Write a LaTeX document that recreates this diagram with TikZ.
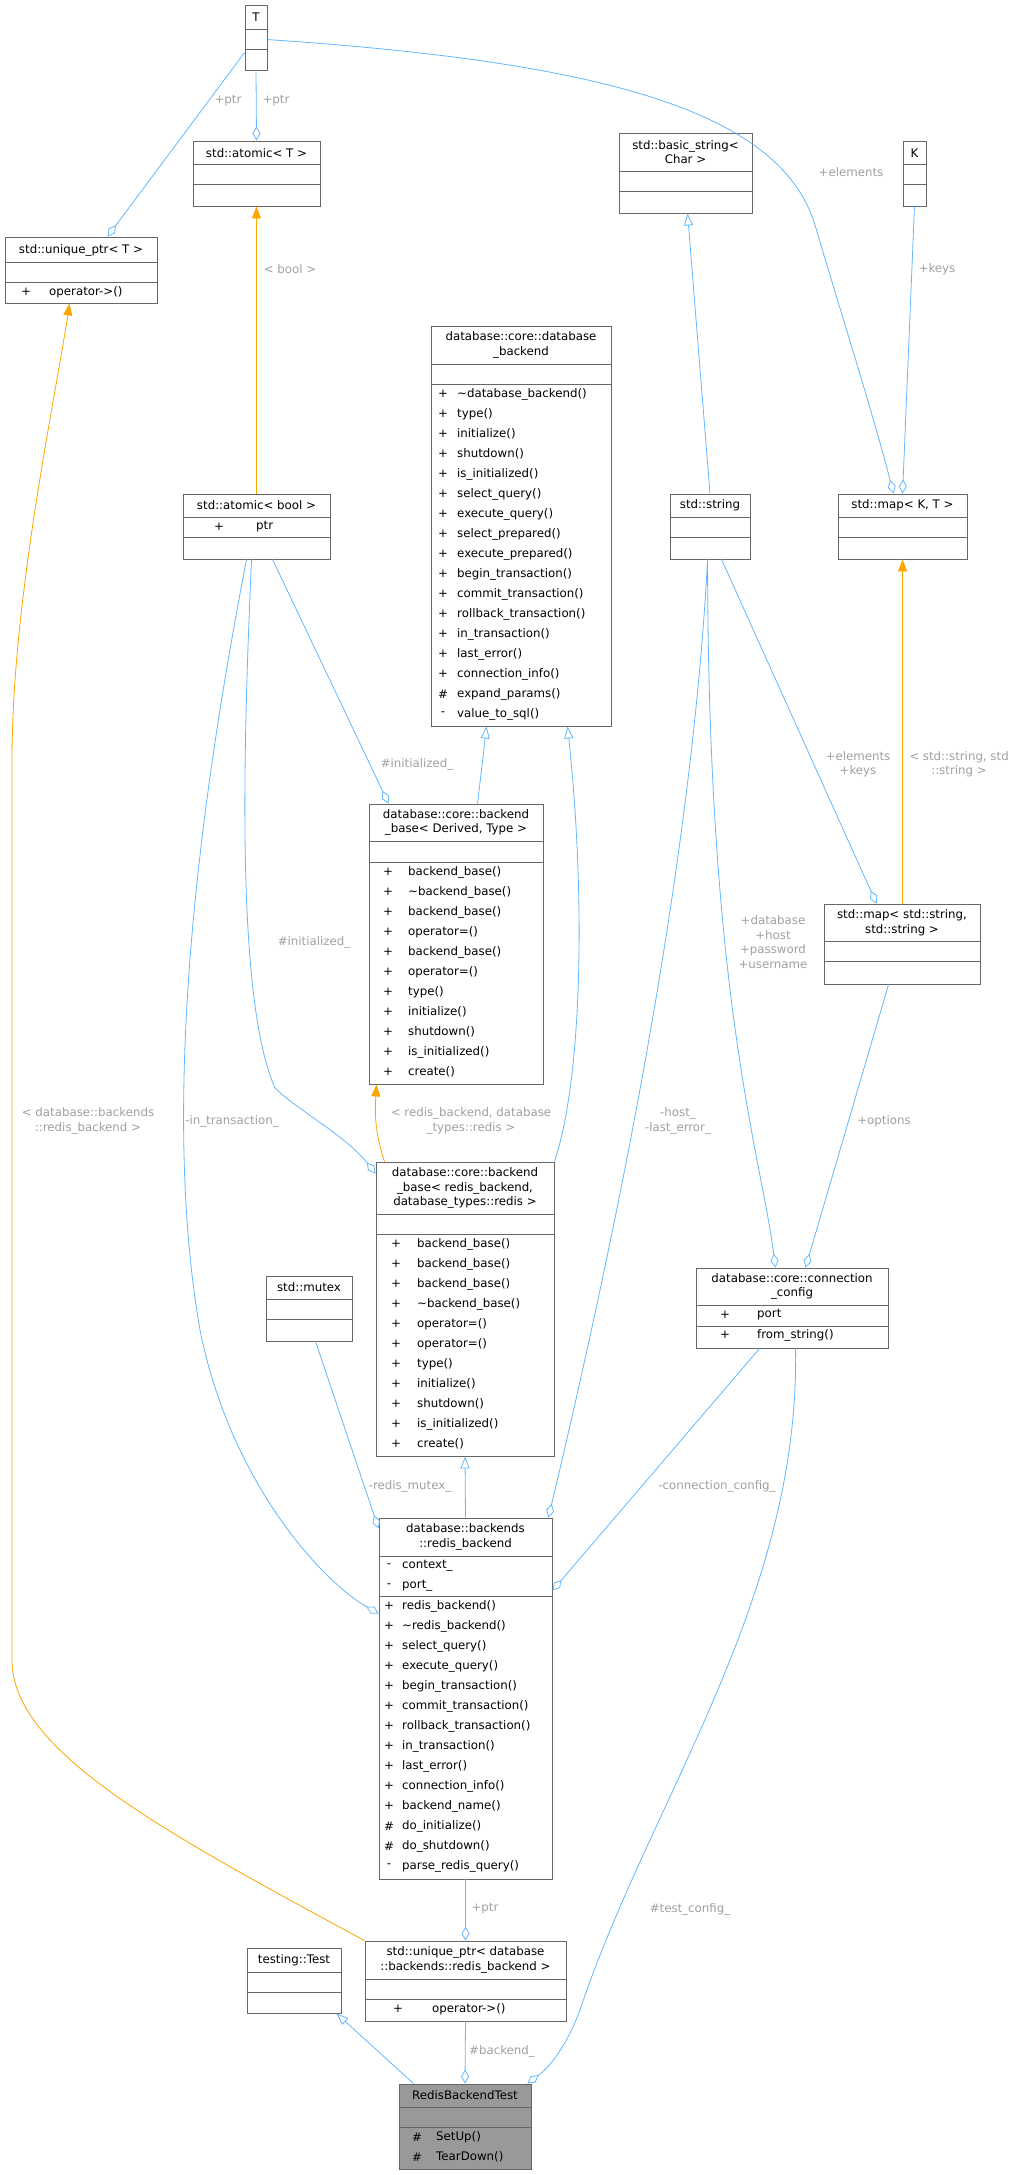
\documentclass[tikz,border=0pt]{standalone}
\usepackage{fontspec}
\setmainfont{DejaVu Sans}
\usetikzlibrary{arrows.meta,fit,calc,positioning}

\definecolor{edgeblue}{HTML}{63B8FF}
\definecolor{edgeorange}{HTML}{FFA500}
\definecolor{labelgray}{HTML}{A0A0A0}
\definecolor{framegray}{HTML}{666666}

\tikzset{
  boxframe/.style={draw=framegray, line width=0.9pt, inner sep=0pt},
  boxline/.style={draw=framegray, line width=0.9pt},
  ctitle/.style={inner sep=0pt, align=center, font=\fontsize{11.8}{14.5}\selectfont},
  mem/.style={inner sep=0pt, font=\fontsize{11.8}{14.5}\selectfont},
  elabel/.style={inner sep=0pt, align=center, text=labelgray, font=\fontsize{11.8}{14.5}\selectfont},
  agg/.style={draw=edgeblue, line width=0.8pt, -{Diamond[open,length=14pt,width=8pt]}},
  inherit/.style={draw=edgeblue, line width=0.8pt, -{Triangle[open,length=12pt,width=9pt]}},
  templ/.style={draw=edgeorange, line width=0.8pt, -{Triangle[length=12pt,width=9pt]}}
}

% class box: name, x1, y1, x2, y2, first and second separator
\newcommand{\classbox}[8][white]{%
  \node[boxframe, fill=#1, fit={(#3,#4) (#5,#6)}] (#2) {};
  \draw[boxline] (#3,#7) -- (#5,#7);
  \draw[boxline] (#3,#8) -- (#5,#8);}

% member rows: name, x of mark, x of text, top y, list
\newcommand{\members}[5]{%
  \foreach \m/\n [count=\i] in {#5} {
    \node[mem] (#1-k\i) at (#2, #4+20*\i-10) {\m};
    \node[mem, anchor=west] (#1-n\i) at (#3, #4+20*\i-10) {\n};}}

\begin{document}
\begin{tikzpicture}[x=1pt, y=-1pt]
\fill[white] (0,0) rectangle (1011,2175);
\useasboundingbox (0,0) rectangle (1011,2175);

% class boxes
\classbox{T}{245}{5}{267}{70}{29}{49}
\node[ctitle] (T-t) at (256,17) {T};
\classbox{K}{903}{141}{926}{206}{164}{184}
\node[ctitle] (K-t) at (914.5,153) {K};
\classbox{atomT}{193}{141}{320}{206}{164}{184}
\node[ctitle] (atomT-t) at (256.5,153) {std::atomic< T >};
\classbox{uptrT}{5}{237}{157}{303}{262}{282}
\node[ctitle] (uptrT-t) at (81,250) {std::unique\_ptr< T >};
\members{uptrT}{26}{49}{282}{+/operator->()}
\classbox{bstring}{619}{133}{752}{213}{171}{191}
\node[ctitle] (bstring-t) at (685.5,152) {std::basic\_string<\\ Char >};
\classbox{dbb}{431}{326}{611}{726}{364}{384}
\node[ctitle] (dbb-t) at (521,345) {database::core::database\\ \_backend};
\members{dbb}{443}{457}{384}{+/\textasciitilde database\_backend(), +/type(), +/initialize(),
  +/shutdown(), +/is\_initialized(), +/select\_query(), +/execute\_query(),
  +/select\_prepared(), +/execute\_prepared(), +/begin\_transaction(),
  +/commit\_transaction(), +/rollback\_transaction(), +/in\_transaction(),
  +/last\_error(), +/connection\_info(), \#/expand\_params(), -/value\_to\_sql()}
\classbox{atomB}{183}{494}{330}{559}{517}{537}
\node[ctitle] (atomB-t) at (256.5,505.5) {std::atomic< bool >};
\members{atomB}{219}{256}{517}{+/ptr}
\classbox{string}{670}{494}{750}{559}{517}{537}
\node[ctitle] (string-t) at (710,505.5) {std::string};
\classbox{mapKT}{838}{494}{967}{559}{517}{537}
\node[ctitle] (mapKT-t) at (902.5,505.5) {std::map< K, T >};
\classbox{bbD}{369}{804}{543}{1084}{841}{862}
\node[ctitle] (bbD-t) at (456,822.5) {database::core::backend\\ \_base< Derived, Type >};
\members{bbD}{388}{408}{862}{+/backend\_base(), +/\textasciitilde backend\_base(), +/backend\_base(),
  +/operator=(), +/backend\_base(), +/operator=(), +/type(), +/initialize(),
  +/shutdown(), +/is\_initialized(), +/create()}
\classbox{mapSS}{824}{904}{980}{984}{941}{961}
\node[ctitle] (mapSS-t) at (902,922.5) {std::map< std::string,\\ std::string >};
\classbox{bbR}{376}{1162}{554}{1456}{1214}{1234}
\node[ctitle] (bbR-t) at (465,1188) {database::core::backend\\ \_base< redis\_backend,\\ database\_types::redis >};
\members{bbR}{396}{417}{1234}{+/backend\_base(), +/backend\_base(), +/backend\_base(),
  +/\textasciitilde backend\_base(), +/operator=(), +/operator=(), +/type(), +/initialize(),
  +/shutdown(), +/is\_initialized(), +/create()}
\classbox{mutex}{266}{1276}{352}{1341}{1299}{1319}
\node[ctitle] (mutex-t) at (309,1287.5) {std::mutex};
\classbox{cc}{696}{1268}{888}{1348}{1305}{1326}
\node[ctitle] (cc-t) at (792,1286.5) {database::core::connection\\ \_config};
\members{cc}{725}{757}{1305}{+/port, +/from\_string()}
\classbox{rb}{379}{1518}{552}{1879}{1556}{1596}
\node[ctitle] (rb-t) at (465.5,1537) {database::backends\\ ::redis\_backend};
\members{rb}{389}{402}{1556}{-/context\_, -/port\_}
\members{rbm}{389}{402}{1596}{+/redis\_backend(), +/\textasciitilde redis\_backend(), +/select\_query(),
  +/execute\_query(), +/begin\_transaction(), +/commit\_transaction(),
  +/rollback\_transaction(), +/in\_transaction(), +/last\_error(),
  +/connection\_info(), +/backend\_name(), \#/do\_initialize(), \#/do\_shutdown(),
  -/parse\_redis\_query()}
\classbox{uptrR}{365}{1941}{566}{2021}{1979}{1999}
\node[ctitle] (uptrR-t) at (465.5,1960) {std::unique\_ptr< database\\ ::backends::redis\_backend >};
\members{uptrR}{398}{432}{1999}{+/operator->()}
\classbox{test}{247}{1948}{341}{2013}{1972}{1992}
\node[ctitle] (test-t) at (294,1960) {testing::Test};
\classbox[black!40]{rbt}{399}{2084}{531}{2169}{2107}{2127}
\node[ctitle] (rbt-t) at (465,2095.5) {RedisBackendTest};
\members{rbt}{417}{436}{2127}{\#/SetUp(), \#/TearDown()}

% connectors
\draw[agg] ($(T.north west)+(0,48)$) -- ($(uptrT.north west)+(103,0)$);
\draw[agg] (T.south) -- (atomT.north);
\draw[agg] ($(T.north east)+(0,35)$) .. controls (600,62) and (780,110) .. (815,225)
  .. controls (840,310) and (872,410) .. ($(mapKT.north west)+(56,0)$);
\draw[agg] (K.south) -- ($(mapKT.north west)+(65,0)$);
\draw[inherit] (string.north) -- ($(bstring.south west)+(69,0)$);
\draw[templ] (atomB.north) -- (atomT.south);
\draw[templ] (uptrR.north west) .. controls (160,1830) and (12,1750) .. (12,1660)
  -- (12,760) .. controls (12,600) and (55,400) .. ($(uptrT.south west)+(65,0)$);
\draw[inherit] ($(bbD.north west)+(109,0)$) -- ($(dbb.south west)+(56,0)$);
\draw[inherit] (bbR.north east) .. controls (582,1080) and (586,900) .. ($(dbb.south west)+(137,0)$);
\draw[templ] ($(bbR.north west)+(9,0)$) .. controls (374,1130) and (375,1110) .. ($(bbD.south west)+(8,0)$);
\draw[agg] ($(atomB.south west)+(90,0)$) -- ($(bbD.north west)+(20,0)$);
\draw[agg] ($(atomB.south west)+(69,0)$) .. controls (243,750) and (236,1000) .. (275,1088)
  .. controls (300,1112) and (345,1135) .. ($(bbR.north west)+(0,12)$);
\draw[agg] ($(atomB.south west)+(64,0)$) .. controls (200,800) and (160,1100) .. (200,1330)
  .. controls (230,1480) and (320,1580) .. ($(rb.north west)+(0,96)$);
\draw[agg] ($(mutex.south west)+(50,0)$) -- ($(rb.north west)+(0,11)$);
\draw[inherit] (rb.north) -- (bbR.south);
\draw[agg] ($(string.south west)+(38,0)$) .. controls (690,900) and (600,1300) .. ($(rb.north east)+(-4,0)$);
\draw[agg] ($(string.south west)+(52,0)$) -- ($(mapSS.north west)+(53,0)$);
\draw[agg] ($(string.south west)+(38,0)$) .. controls (708,1000) and (760,1150) .. ($(cc.north west)+(80,0)$);
\draw[templ] ($(mapSS.north west)+(79,0)$) -- ($(mapKT.south west)+(65,0)$);
\draw[agg] ($(mapSS.south west)+(65,0)$) -- ($(cc.north west)+(110,0)$);
\draw[agg] ($(cc.south west)+(64,0)$) -- ($(rb.north east)+(0,73)$);
\draw[agg] (rb.south) -- (uptrR.north);
\draw[inherit] ($(rbt.north west)+(15,0)$) -- ($(test.south east)+(-5,0)$);
\draw[agg] (uptrR.south) -- (rbt.north);
\draw[agg] ($(cc.south west)+(100,0)$) .. controls (800,1600) and (650,1800) .. (580,2010)
  .. controls (565,2050) and (548,2068) .. ($(rbt.north east)+(-4,0)$);

% connector labels
\node[elabel] (l-ptr1) at (228,101) {+ptr};
\node[elabel] (l-ptr2) at (276,101) {+ptr};
\node[elabel] (l-elem) at (851,172) {+elements};
\node[elabel] (l-keys) at (937,269) {+keys};
\node[elabel] (l-bool) at (290,269) {< bool >};
\node[elabel] (l-init1) at (417,764) {\#initialized\_};
\node[elabel] (l-init2) at (314,942) {\#initialized\_};
\node[elabel] (l-redis) at (471,1121) {< redis\_backend, database\\ \_types::redis >};
\node[elabel] (l-trans) at (232,1121) {-in\_transaction\_};
\node[elabel] (l-uptr) at (88,1121) {< database::backends\\ ::redis\_backend >};
\node[elabel] (l-host) at (678,1121) {-host\_\\ -last\_error\_};
\node[elabel] (l-ek) at (858,764) {+elements\\ +keys};
\node[elabel] (l-ss) at (959,764) {< std::string, std\\ ::string >};
\node[elabel] (l-db) at (773,942) {+database\\ +host\\ +password\\ +username};
\node[elabel] (l-opt) at (884,1121) {+options};
\node[elabel] (l-mutex) at (410,1486) {-redis\_mutex\_};
\node[elabel] (l-conn) at (717,1486) {-connection\_config\_};
\node[elabel] (l-ptr3) at (485,1909) {+ptr};
\node[elabel] (l-back) at (502,2051) {\#backend\_};
\node[elabel] (l-test) at (690,1909) {\#test\_config\_};
\end{tikzpicture}
\end{document}
